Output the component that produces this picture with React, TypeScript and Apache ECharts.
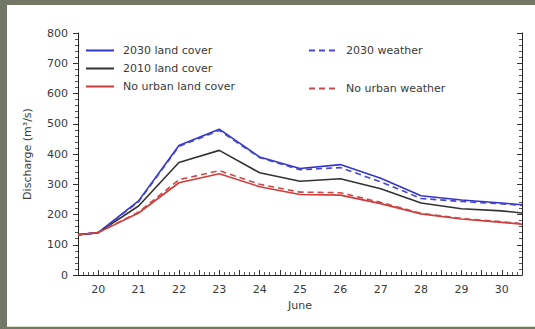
import React, { useEffect, useRef } from "react";
import * as echarts from "echarts";

// Day of June (hydrograph sampled daily, plus the half-day ends of the window)
const days = [19.5, 20, 21, 22, 23, 24, 25, 26, 27, 28, 29, 30, 30.5];

// Discharge (m³/s) for each scenario
const land2030 = [133, 140, 245, 428, 482, 390, 352, 365, 320, 262, 248, 238, 232];
const weather2030 = [133, 140, 242, 425, 478, 388, 348, 355, 308, 253, 243, 235, 230];
const land2010 = [133, 140, 228, 372, 412, 338, 310, 318, 285, 238, 219, 212, 205];
const noUrbanLand = [133, 140, 205, 305, 335, 292, 266, 264, 236, 202, 185, 174, 168];
const noUrbanWeather = [133, 140, 208, 315, 345, 300, 274, 272, 240, 204, 187, 176, 170];

const yTicks = [0, 100, 200, 300, 400, 500, 600, 700, 800];
const xLabelDays = [20, 21, 22, 23, 24, 25, 26, 27, 28, 29, 30];

const FONT = "DejaVu Sans";
const TEXT = "#3a3a3a";

const pairs = (ys: number[]) => days.map((d, i) => [d, ys[i]]);

// legend shows just the line sample, no marker
const legendCommon = {
  itemWidth: 28,
  itemHeight: 12,
  padding: 0,
  itemStyle: { opacity: 0 },
  textStyle: { fontFamily: FONT, fontSize: 11, color: TEXT, padding: [0, 0, 0, 4] },
};

export default function App() {
  const ref = useRef<HTMLDivElement>(null);

  useEffect(() => {
    if (!ref.current) return;
    const chart = echarts.init(ref.current, undefined, { renderer: "svg" });

    const yAxisBase = {
      type: "value" as const,
      min: yTicks[0],
      max: yTicks[yTicks.length - 1],
      interval: 100,
      splitLine: { show: false },
      axisLine: { show: true, lineStyle: { color: "#222", width: 1 } },
    };

    chart.setOption({
      animation: false,
      backgroundColor: "#ffffff",
      textStyle: { fontFamily: FONT },
      grid: { left: 71, right: 13, top: 28, bottom: 51 },
      xAxis: {
        type: "value",
        min: 19.5,
        max: 30.5,
        interval: 0.5,
        name: "June",
        nameLocation: "middle",
        nameGap: 23,
        nameTextStyle: { fontFamily: FONT, fontSize: 11, color: TEXT },
        axisLine: { show: true, onZero: false, lineStyle: { color: "#222", width: 1 } },
        axisTick: { show: true, inside: true, length: 5, lineStyle: { color: "#333" } },
        minorTick: { show: true, splitNumber: 4, length: 3, lineStyle: { color: "#555" } },
        splitLine: { show: false },
        axisLabel: {
          margin: 9,
          fontFamily: FONT,
          fontSize: 11,
          color: TEXT,
          showMinLabel: true,
          showMaxLabel: true,
          formatter: (v: number) => (xLabelDays.includes(v) ? String(v) : ""),
        },
      },
      yAxis: [
        {
          ...yAxisBase,
          position: "left",
          name: "Discharge (m³/s)",
          nameLocation: "middle",
          nameGap: 45,
          nameTextStyle: { fontFamily: FONT, fontSize: 11, color: TEXT },
          axisTick: { show: true, inside: false, length: 5, lineStyle: { color: "#333" } },
          minorTick: { show: true, splitNumber: 5, length: 3, lineStyle: { color: "#555" } },
          axisLabel: { margin: 10, fontFamily: FONT, fontSize: 11, color: TEXT },
        },
        {
          ...yAxisBase,
          position: "right",
          axisTick: { show: true, inside: true, length: 5, lineStyle: { color: "#333" } },
          minorTick: { show: true, splitNumber: 5, length: 3, lineStyle: { color: "#555" } },
          axisLabel: { show: false },
        },
      ],
      legend: [
        {
          ...legendCommon,
          data: ["2030 land cover", "2010 land cover", "No urban land cover"],
          orient: "vertical",
          left: 78,
          top: 40,
          itemGap: 7,
        },
        { ...legendCommon, data: ["2030 weather"], left: 301, top: 40 },
        { ...legendCommon, data: ["No urban weather"], left: 301, top: 78 },
      ],
      series: [
        {
          name: "2030 land cover",
          type: "line",
          symbol: "none",
          data: pairs(land2030),
          color: "#3434c8",
          lineStyle: { color: "#3434c8", width: 1.6 },
        },
        {
          name: "2010 land cover",
          type: "line",
          symbol: "none",
          data: pairs(land2010),
          color: "#333333",
          lineStyle: { color: "#333333", width: 1.6 },
        },
        {
          name: "No urban land cover",
          type: "line",
          symbol: "none",
          data: pairs(noUrbanLand),
          color: "#d23a3a",
          lineStyle: { color: "#d23a3a", width: 1.6 },
        },
        {
          name: "2030 weather",
          type: "line",
          symbol: "none",
          data: pairs(weather2030),
          color: "#4646d2",
          lineStyle: { color: "#4646d2", width: 1.6, type: [6, 4] },
        },
        {
          name: "No urban weather",
          type: "line",
          symbol: "none",
          data: pairs(noUrbanWeather),
          color: "#c94a4a",
          lineStyle: { color: "#c94a4a", width: 1.6, type: [6, 4] },
        },
      ],
    });

    return () => chart.dispose();
  }, []);

  return (
    <div
      style={{
        position: "fixed",
        left: 0,
        top: 0,
        width: 535,
        height: 329,
        background: "#737766",
      }}
    >
      <div
        style={{
          position: "absolute",
          left: 7,
          top: 5,
          width: 528,
          height: 322,
          background: "#ffffff",
          borderBottom: "1px solid #d4e0c8",
          boxSizing: "border-box",
        }}
      >
        <div ref={ref} style={{ width: 528, height: 321 }} />
      </div>
    </div>
  );
}
